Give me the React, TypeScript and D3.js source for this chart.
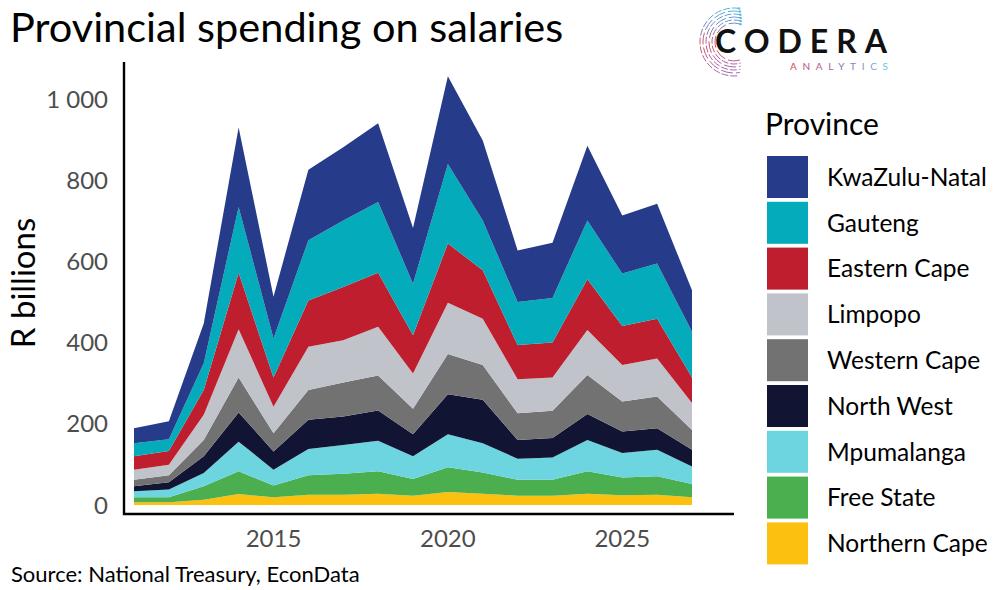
import { useEffect, useRef } from "react";
import * as d3 from "d3";

// years on the x axis
const years = [2011, 2012, 2013, 2014, 2015, 2016, 2017, 2018, 2019, 2020, 2021, 2022, 2023, 2024, 2025, 2026, 2027];

// provinces, bottom of the stack first
const provinces = [
  "Northern Cape",
  "Free State",
  "Mpumalanga",
  "North West",
  "Western Cape",
  "Limpopo",
  "Eastern Cape",
  "Gauteng",
  "KwaZulu-Natal",
];

const provinceColors = ["#FCC010", "#4BAE4F", "#6DD5E0", "#111433", "#727272", "#C0C4CA", "#BE1E2D", "#04ABBB", "#263B8A"];

// R billions per year
const northernCape = [7, 7, 13, 27, 19, 25, 25, 28, 23, 32, 28, 23, 23, 28, 24, 25, 19];
const freeState = [12, 12, 33, 56, 29, 48, 52, 55, 41, 61, 52, 39, 39, 55, 44, 46, 33];
const mpumalanga = [15, 19, 33, 73, 39, 65, 71, 75, 56, 81, 72, 52, 55, 77, 60, 65, 43];
const northWest = [12, 18, 41, 72, 45, 72, 70, 75, 54, 99, 107, 46, 48, 64, 53, 53, 41];
const westernCape = [16, 17, 40, 86, 45, 73, 84, 86, 63, 99, 86, 66, 67, 96, 74, 78, 49];
const limpopo = [25, 26, 62, 119, 65, 107, 104, 120, 87, 126, 114, 84, 82, 111, 90, 94, 66];
const easternCape = [33, 34, 61, 139, 72, 114, 131, 133, 94, 146, 119, 84, 86, 125, 96, 98, 63];
const gauteng = [32, 29, 66, 162, 96, 148, 164, 174, 127, 196, 123, 106, 110, 145, 129, 136, 113];
const kwaZuluNatal = [37, 44, 98, 196, 103, 174, 180, 194, 137, 216, 197, 127, 136, 184, 143, 147, 102];

const seriesValues = [northernCape, freeState, mpumalanga, northWest, westernCape, limpopo, easternCape, gauteng, kwaZuluNatal];

const yTicks = [0, 200, 400, 600, 800, 1000];
const xTicks = [2015, 2020, 2025];

const App = () => {
  const svgRef = useRef<SVGSVGElement>(null);

  useEffect(() => {
    document.body.style.margin = "0";

    const width = 1000,
      height = 590;
    const panel = { left: 124, right: 734, top: 62, bottom: 514 };

    d3.select(svgRef.current).selectAll("*").remove();
    const svg = d3
      .select(svgRef.current)
      .attr("width", width)
      .attr("height", height)
      .style("font-family", "Lato, 'Open Sans', sans-serif");

    // table for the stack
    const table = years.map((year, i) => {
      const row: Record<string, number> = { year };
      provinces.forEach((p, k) => {
        row[p] = seriesValues[k][i];
      });
      return row;
    });

    const stacked = d3.stack<Record<string, number>>().keys(provinces)(table);

    const x = d3.scaleLinear().domain([2011, 2027]).range([134, 692]);
    const y = d3.scaleLinear().domain([0, 1000]).range([505, 99]);

    const area = d3
      .area<d3.SeriesPoint<Record<string, number>>>()
      .x((d) => x(d.data.year))
      .y0((d) => y(d[0]))
      .y1((d) => y(d[1]));

    svg
      .append("g")
      .selectAll("path")
      .data(stacked)
      .enter()
      .append("path")
      .attr("d", area)
      .attr("fill", (_, i) => provinceColors[i]);

    // axis lines
    svg
      .append("path")
      .attr("d", `M${panel.left},${panel.top}V${panel.bottom}H${panel.right}`)
      .attr("fill", "none")
      .attr("stroke", "#000")
      .attr("stroke-width", 2.4);

    const fmt = d3.formatLocale({ decimal: ".", thousands: " ", grouping: [3], currency: ["", ""] }).format(",");

    // y tick labels
    svg
      .append("g")
      .selectAll("text")
      .data(yTicks)
      .enter()
      .append("text")
      .attr("x", 108)
      .attr("y", (d) => y(d))
      .attr("dy", "0.36em")
      .attr("text-anchor", "end")
      .attr("font-size", 24)
      .attr("fill", "#4D4D4D")
      .text((d) => fmt(d));

    // x tick labels
    svg
      .append("g")
      .selectAll("text")
      .data(xTicks)
      .enter()
      .append("text")
      .attr("x", (d) => x(d))
      .attr("y", 547)
      .attr("text-anchor", "middle")
      .attr("font-size", 24)
      .attr("fill", "#4D4D4D")
      .text((d) => d);

    // y title
    svg
      .append("text")
      .attr("transform", "translate(35, 283) rotate(-90)")
      .attr("text-anchor", "middle")
      .attr("font-size", 33)
      .attr("fill", "#000")
      .text("R billions");

    // title
    svg
      .append("text")
      .attr("x", 10)
      .attr("y", 42)
      .attr("font-size", 41.5)
      .attr("fill", "#000")
      .text("Provincial spending on salaries");

    // source
    svg
      .append("text")
      .attr("x", 11)
      .attr("y", 582)
      .attr("font-size", 22)
      .attr("fill", "#000")
      .text("Source: National Treasury, EconData");

    // legend, top of the stack first
    const legendItems = provinces.map((p, i) => ({ name: p, color: provinceColors[i] })).reverse();
    svg
      .append("text")
      .attr("x", 765)
      .attr("y", 135)
      .attr("font-size", 30)
      .attr("fill", "#000")
      .text("Province");

    const legend = svg.append("g");
    legend
      .selectAll("rect")
      .data(legendItems)
      .enter()
      .append("rect")
      .attr("x", 767)
      .attr("y", (_, i) => 156 + i * 45.8)
      .attr("width", 41)
      .attr("height", 42)
      .attr("fill", (d) => d.color);

    legend
      .selectAll("text")
      .data(legendItems)
      .enter()
      .append("text")
      .attr("x", 827)
      .attr("y", (_, i) => 177 + i * 45.8)
      .attr("dy", "0.36em")
      .attr("font-size", 24.5)
      .attr("fill", "#000")
      .text((d) => d.name);

    // logo
    const defs = svg.append("defs");
    const grad = defs
      .append("linearGradient")
      .attr("id", "logoGrad")
      .attr("x1", "0%")
      .attr("x2", "100%")
      .attr("y1", "0%")
      .attr("y2", "0%");
    grad.append("stop").attr("offset", "0%").attr("stop-color", "#D2455F");
    grad.append("stop").attr("offset", "55%").attr("stop-color", "#8A6FB0");
    grad.append("stop").attr("offset", "100%").attr("stop-color", "#6CC3DE");

    const arcGrad = defs
      .append("linearGradient")
      .attr("id", "arcGrad")
      .attr("gradientUnits", "userSpaceOnUse")
      .attr("x1", 0)
      .attr("x2", 0)
      .attr("y1", 10)
      .attr("y2", 74);
    arcGrad.append("stop").attr("offset", "0%").attr("stop-color", "#4FB6DE");
    arcGrad.append("stop").attr("offset", "25%").attr("stop-color", "#7C7FC0");
    arcGrad.append("stop").attr("offset", "55%").attr("stop-color", "#D0506C");
    arcGrad.append("stop").attr("offset", "100%").attr("stop-color", "#9A6AB5");

    const logo = svg.append("g");
    const cx = 734,
      cy = 42;
    const radii = [19, 22, 25, 28, 31, 34];
    radii.forEach((r, i) => {
      const path = d3.path();
      const a0 = -Math.PI / 2 + 0.35 - i * 0.04;
      const a1 = -1.5 * Math.PI - 0.35 + i * 0.04;
      path.arc(cx, cy, r, a0, a1, true);
      logo
        .append("path")
        .attr("d", path.toString())
        .attr("fill", "none")
        .attr("stroke", "url(#arcGrad)")
        .attr("stroke-width", 1)
        .attr("stroke-dasharray", i % 2 ? "7 2" : "12 3");
      logo
        .append("circle")
        .attr("cx", cx + r * Math.cos(a0))
        .attr("cy", cy + r * Math.sin(a0))
        .attr("r", 1.2)
        .attr("fill", "#5BB8E0");
    });

    logo
      .append("text")
      .attr("x", 715)
      .attr("y", 53)
      .attr("font-size", 32)
      .attr("font-weight", 700)
      .attr("textLength", 172)
      .attr("lengthAdjust", "spacing")
      .attr("fill", "#111")
      .text("CODERA");

    logo
      .append("text")
      .attr("x", 790)
      .attr("y", 70)
      .attr("font-size", 10)
      .attr("textLength", 98)
      .attr("lengthAdjust", "spacing")
      .attr("fill", "url(#logoGrad)")
      .text("ANALYTICS");
  }, []);

  return <svg ref={svgRef} width="1000" height="590" style={{ display: "block" }}></svg>;
};

export default App;
